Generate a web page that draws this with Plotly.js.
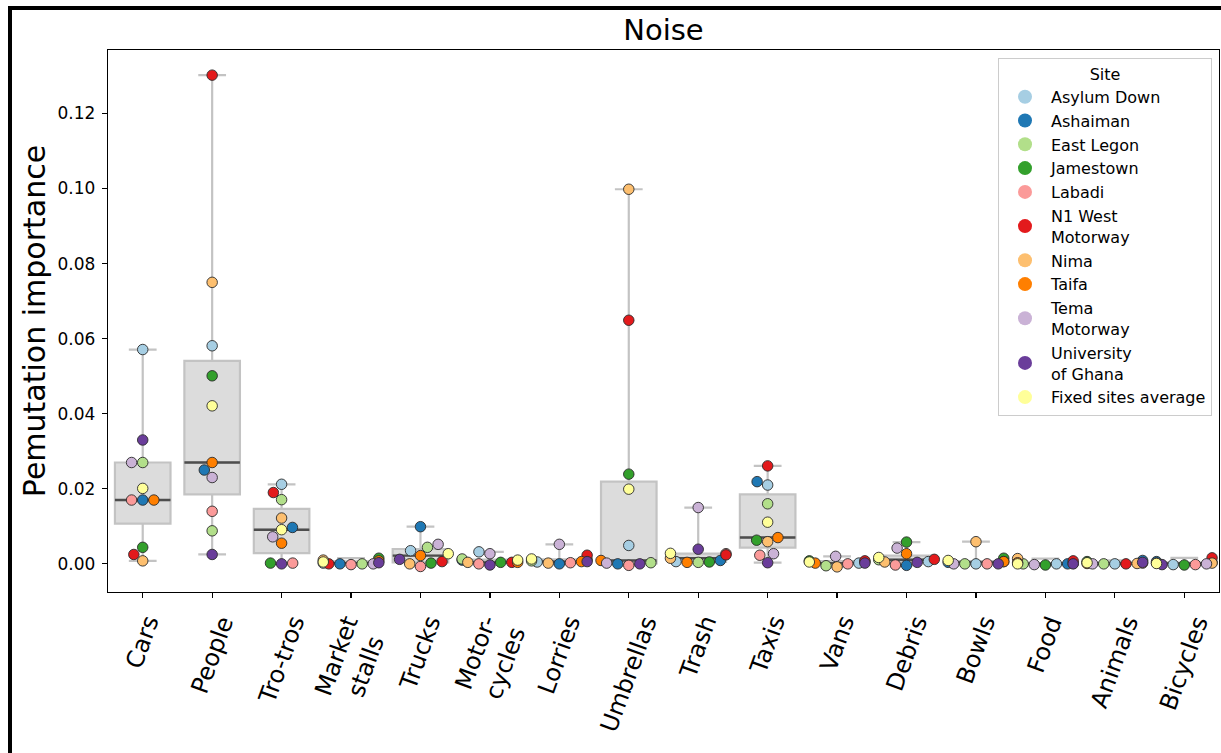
<!DOCTYPE html>
<html>
<head>
<meta charset="utf-8">
<script src="https://cdn.plot.ly/plotly-3.0.1.min.js"></script>
<style>
html,body{margin:0;padding:0;overflow:hidden;background:#fff}
#chart{position:absolute;left:0;top:0;width:1221px;height:753px}
#frame{position:absolute;left:8px;top:6px;width:3000px;height:3000px;border-left:4px solid #000;border-top:4px solid #000;pointer-events:none}
</style>
</head>
<body>
<div id="chart"></div>
<div id="frame"></div>
<script>
// ---- data ----
const categories = ['Cars','People','Tro-tros','Market<br>stalls','Trucks','Motor-<br>cycles','Lorries','Umbrellas','Trash','Taxis','Vans','Debris','Bowls','Food','Animals','Bicycles'];
const sites = ['Asylum Down','Ashaiman','East Legon','Jamestown','Labadi','N1 West<br>Motorway','Nima','Taifa','Tema<br>Motorway','University<br>of Ghana','Fixed sites average'];
const siteColors = ['#a6cee3','#1f78b4','#b2df8a','#33a02c','#fb9a99','#e31a1c','#fdbf6f','#ff7f00','#cab2d6','#6a3d9a','#ffff99'];

const asylumDown      = [0.0571, 0.0581, 0.0212, 0.0002, 0.0035, 0.0032, 0.0005, 0.0049, 0.0006, 0.0210, 0.0002, 0.0006, 0.0000, 0.0000, 0.0000, -0.0002];
const ashaiman        = [0.0170, 0.0250, 0.0097, 0.0000, 0.0099, 0.0010, 0.0000, 0.0000, 0.0009, 0.0219, 0.0006, -0.0004, 0.0004, 0.0000, 0.0009, 0.0006];
const eastLegon       = [0.0270, 0.0088, 0.0171, 0.0000, 0.0044, 0.0013, 0.0008, 0.0003, 0.0004, 0.0160, -0.0005, 0.0011, 0.0000, 0.0000, 0.0000, 0.0004];
const jamestown       = [0.0044, 0.0501, 0.0002, 0.0015, 0.0002, 0.0004, 0.0011, 0.0239, 0.0005, 0.0063, 0.0008, 0.0058, 0.0015, -0.0003, 0.0006, -0.0003];
const labadi          = [0.0170, 0.0140, 0.0002, -0.0002, -0.0007, 0.0000, 0.0003, -0.0004, 0.0027, 0.0023, 0.0000, -0.0003, 0.0000, 0.0001, 0.0002, -0.0002];
const n1WestMotorway  = [0.0025, 0.1302, 0.0190, 0.0000, 0.0006, 0.0004, 0.0023, 0.0649, 0.0024, 0.0261, 0.0008, 0.0012, 0.0006, 0.0008, 0.0000, 0.0016];
const nima            = [0.0008, 0.0750, 0.0122, 0.0010, 0.0000, 0.0004, 0.0002, 0.0998, 0.0015, 0.0059, -0.0008, 0.0005, 0.0059, 0.0014, 0.0001, 0.0002];
const taifa           = [0.0170, 0.0270, 0.0055, 0.0008, 0.0022, 0.0004, 0.0006, 0.0009, 0.0004, 0.0070, 0.0002, 0.0027, 0.0006, 0.0003, 0.0001, 0.0002];
const temaMotorway    = [0.0270, 0.0230, 0.0072, 0.0000, 0.0052, 0.0027, 0.0052, 0.0002, 0.0150, 0.0027, 0.0020, 0.0042, 0.0000, -0.0002, 0.0000, 0.0000];
const univGhana       = [0.0330, 0.0025, 0.0000, 0.0003, 0.0012, -0.0003, 0.0006, 0.0000, 0.0039, 0.0003, 0.0002, 0.0004, 0.0000, 0.0000, 0.0004, -0.0002];
const fixedAverage    = [0.0201, 0.0421, 0.0091, 0.0005, 0.0027, 0.0010, 0.0013, 0.0199, 0.0028, 0.0111, 0.0005, 0.0017, 0.0009, 0.0000, 0.0003, 0.0001];

const siteValues = [asylumDown, ashaiman, eastLegon, jamestown, labadi, n1WestMotorway, nima, taifa, temaMotorway, univGhana, fixedAverage];

// ---- geometry ----
const W = 1221, H = 753;
const M = {l:108, r:2, t:50, b:161};
const yRange = [-0.0075, 0.1369];
const xRange = [-0.5, categories.length - 0.5];
const plotW = W - M.l - M.r, plotH = H - M.t - M.b;
const pxX = plotW / (xRange[1] - xRange[0]);
const pxY = plotH / (yRange[1] - yRange[0]);
const D = 10.6;          // swarm point spacing in px
const halfWidth = 0.4;   // swarm / box half width in category units
const FONT = 'DejaVu Sans, sans-serif';

// ---- beeswarm offsets (seaborn-like) ----
const offsets = siteValues.map(a => a.map(() => 0));
categories.forEach((c, ci) => {
  const pts = siteValues.map((arr, si) => ({si: si, y: arr[ci] * pxY}));
  pts.sort((a, b) => a.y - b.y);
  const placed = [];
  pts.forEach(p => {
    const nb = placed.filter(q => Math.abs(q.y - p.y) < D);
    let cands = [0];
    nb.forEach(q => {
      const dy = p.y - q.y;
      const dx = Math.sqrt(Math.max(D * D - dy * dy, 0)) * 1.05;
      cands.push(q.x - dx, q.x + dx);
    });
    cands = cands.map((v, i) => ({v, i})).sort((a, b) => (Math.abs(a.v) - Math.abs(b.v)) || (a.i - b.i)).map(o => o.v);
    let x = cands.find(cx => nb.every(q => (cx - q.x) ** 2 + (p.y - q.y) ** 2 >= D * D - 1e-6));
    if (x === undefined) x = 0;
    p.x = x;
    placed.push(p);
  });
  placed.forEach(p => {
    let off = p.x / pxX;
    off = Math.max(-halfWidth, Math.min(halfWidth, off));
    offsets[p.si][ci] = off;
  });
});

// ---- box statistics ----
function pct(sorted, p) {
  const idx = (sorted.length - 1) * p;
  const lo = Math.floor(idx), hi = Math.ceil(idx);
  return sorted[lo] + (sorted[hi] - sorted[lo]) * (idx - lo);
}
const idxs = categories.map((c, i) => i);
const stats = idxs.map(ci => {
  const v = siteValues.map(a => a[ci]).sort((a, b) => a - b);
  return {q1: pct(v, 0.25), med: pct(v, 0.5), q3: pct(v, 0.75), min: v[0], max: v[v.length - 1]};
});

const traces = [];
traces.push({
  type: 'box', x: idxs,
  q1: stats.map(s => s.q1), median: stats.map(s => s.med), q3: stats.map(s => s.q3),
  lowerfence: stats.map(s => s.min), upperfence: stats.map(s => s.max),
  width: 2 * halfWidth, whiskerwidth: 0.5,
  fillcolor: '#dcdcdc', line: {color: '#c3c3c3', width: 2.2},
  boxpoints: false, showlegend: false, hoverinfo: 'skip'
});
const mx = [], my = [];
stats.forEach((s, i) => { mx.push(i - halfWidth, i + halfWidth, null); my.push(s.med, s.med, null); });
traces.push({type: 'scatter', mode: 'lines', x: mx, y: my, line: {color: '#4d4d4d', width: 2.4}, showlegend: false, hoverinfo: 'skip'});

siteValues.forEach((arr, si) => {
  traces.push({
    type: 'scatter', mode: 'markers', name: sites[si],
    x: arr.map((v, ci) => ci + offsets[si][ci]), y: arr,
    marker: {size: 10.5, color: siteColors[si], line: {color: '#2b2b2b', width: 0.9}},
    showlegend: false
  });
});
siteValues.forEach((arr, si) => {
  traces.push({
    type: 'scatter', mode: 'markers', name: sites[si], x: [null], y: [null],
    marker: {size: 14, color: siteColors[si], line: {width: 0}}, showlegend: true
  });
});

const annotations = categories.map((c, i) => ({
  x: i, xref: 'x', y: -(611 - (H - M.b)) / plotH, yref: 'paper',
  text: c, showarrow: false, textangle: -70, xanchor: 'center', yanchor: 'top',
  borderpad: 0, font: {family: FONT, size: 24, color: '#000'}
}));

const layout = {
  width: W, height: H, margin: M, paper_bgcolor: '#fff', plot_bgcolor: '#fff',
  font: {family: FONT, color: '#000'},
  title: {text: 'Noise', font: {family: FONT, size: 29, color: '#000'}, x: 0.5, xref: 'paper', xanchor: 'center', y: 1 - 30 / H, yref: 'container', yanchor: 'middle'},
  xaxis: {range: xRange, tickvals: idxs, showticklabels: false, ticks: 'outside', ticklen: 5, tickwidth: 1.2, tickcolor: '#000',
          showline: true, linecolor: '#000', linewidth: 1.2, mirror: true, showgrid: false, zeroline: false},
  yaxis: {range: yRange, tickvals: [0, 0.02, 0.04, 0.06, 0.08, 0.10, 0.12], tickformat: '.2f', ticks: 'outside', ticklen: 5, tickwidth: 1.2, tickcolor: '#000',
          tickfont: {family: FONT, size: 17, color: '#000'}, ticklabelstandoff: 3,
          showline: true, linecolor: '#000', linewidth: 1.2, mirror: true, showgrid: false, zeroline: false,
          title: {text: 'Pemutation importance', font: {family: FONT, size: 30, color: '#000'}, standoff: 3}},
  legend: {x: 1 - 7 / plotW, xanchor: 'right', y: 1 - 8 / plotH, yanchor: 'top',
           bgcolor: '#fff', bordercolor: '#cccccc', borderwidth: 1, itemwidth: 42,
           font: {family: FONT, size: 16, color: '#000'},
           title: {text: 'Site', side: 'top center', font: {family: FONT, size: 16, color: '#000'}},
           tracegroupgap: 0},
  annotations: annotations,
  showlegend: true
};

Plotly.newPlot('chart', traces, layout, {displayModeBar: false, staticPlot: true});
</script>
</body>
</html>
